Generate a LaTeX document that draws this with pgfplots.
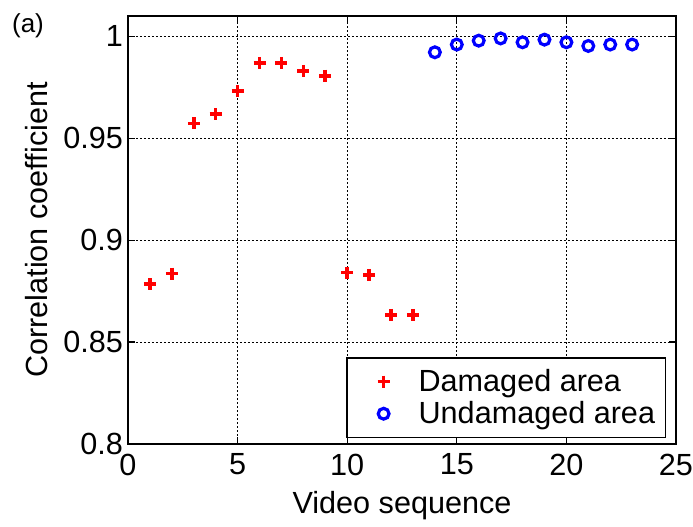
\documentclass[border=0pt]{standalone}
\usepackage{fontspec}
\setmainfont{Liberation Sans}
\usepackage{pgfplots}
\pgfplotsset{compat=1.18}
\begin{document}
\begin{tikzpicture}
\begin{axis}[
  name=ax,
  scale only axis,
  width=274pt, height=214pt,
  xmin=0, xmax=25, ymin=0.8, ymax=1.01,
  xtick={0,5,10,15,20,25},
  ytick={0.8,0.85,0.9,0.95,1},
  yticklabels={0.8,0.85,0.9,0.95,1},
  /pgf/number format/assume math mode=true,
  tick label style={font=\fontsize{15.3}{18}\selectfont},
  xticklabel style={inner xsep=0pt, yshift=-1.4pt},
  yticklabel style={xshift=1pt},
  label style={font=\fontsize{15.3}{18}\selectfont},
  xlabel={Video sequence},
  ylabel={Correlation coefficient},
  xlabel style={at={(rel axis cs:0.5,0)}, anchor=center, yshift=-31pt},
  ylabel style={at={(rel axis cs:0,0.5)}, anchor=center, yshift=45.75pt},
  tick align=inside,
  major tick length=3.5pt,
  tick style={black, line width=0.6pt},
  axis line style={black, line width=0.8pt},
  grid=major,
  grid style={black, line width=0.45pt, dash pattern=on 1pt off 1pt},
  legend style={at={(rel axis cs:1,0)}, anchor=south east, xshift=-5pt, yshift=3pt,
    draw=black, line width=0.7pt,
    font=\fontsize{15.3}{18}\selectfont, cells={anchor=west},
    inner xsep=0pt, inner ysep=4.5pt, row sep=1.5pt,
    nodes={inner ysep=1pt, inner xsep=5.1pt}},
  legend image code/.code={\path (0pt,0pt) (29pt,0pt);
     \draw[#1] plot coordinates {(17.5pt,0pt)};},
]
\addplot[only marks, mark=+, red, mark size=3pt, line width=1.8pt] coordinates {
(1,0.8785) (2,0.8836) (3,0.9573) (4,0.9618) (5,0.9732) (6,0.987) (7,0.987)
(8,0.9831) (9,0.9807) (10,0.8841) (11,0.8830) (12,0.8634) (13,0.8634)
};
\addlegendentry{Damaged area}
\addplot[only marks, mark=o, blue, mark size=2.7pt, line width=1.6pt] coordinates {
(14,0.9922) (15,0.996) (16,0.9979) (17,0.999) (18,0.9971) (19,0.9984)
(20,0.9971) (21,0.9953) (22,0.996) (23,0.996)
};
\addlegendentry{Undamaged area}
\end{axis}
\node[font=\fontsize{13}{15}\selectfont, anchor=center] at ([xshift=-50pt,yshift=-5pt]ax.north west) {(a)};
\path ([xshift=-64pt,yshift=-39.5pt]ax.south west) rectangle ([xshift=8.5pt,yshift=8pt]ax.north east);
\end{tikzpicture}
\end{document}
